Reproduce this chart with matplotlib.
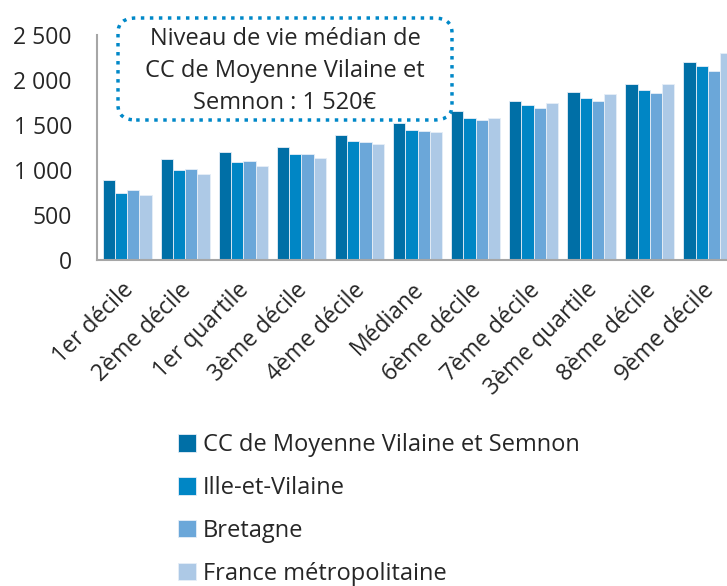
import numpy as np
from matplotlib import pyplot as plt
from matplotlib.patches import FancyBboxPatch
import matplotlib.transforms as mtransforms

plt.rcParams['font.family'] = ['Open Sans', 'DejaVu Sans']

# Categories and series (euros / month)
categories = ['1er décile', '2ème décile', '1er quartile', '3ème décile', '4ème décile',
              'Médiane', '6ème décile', '7ème décile', '3ème quartile', '8ème décile', '9ème décile']
cc_mvs = [885, 1125, 1202, 1258, 1391, 1520, 1650, 1768, 1870, 1953, 2200]
ille_vilaine = [744, 996, 1091, 1177, 1317, 1443, 1573, 1720, 1796, 1890, 2156]
bretagne = [773, 1010, 1099, 1177, 1310, 1432, 1550, 1687, 1768, 1853, 2100]
france = [722, 951, 1043, 1129, 1284, 1424, 1573, 1746, 1842, 1953, 2295]

series_names = ['CC de Moyenne Vilaine et Semnon', 'Ille-et-Vilaine', 'Bretagne', 'France métropolitaine']
colors = ['#006fa6', '#0086c5', '#6ba7d9', '#adc9e6']

fig = plt.figure(figsize=(7.27, 5.86), dpi=100)
ax = fig.add_axes([0.1334, 0.5563, 0.8666, 0.384])

x = np.arange(len(categories))
w = 0.21
handles = []
for k, (vals, name, c) in enumerate(zip([cc_mvs, ille_vilaine, bretagne, france], series_names, colors)):
    b = ax.bar(x + (k - 1.5) * w, vals, width=w, color=c, edgecolor='#e6eef7', linewidth=0.6, label=name)
    handles.append(b)

ax.set_xlim(-0.52, 10.33)
ax.set_ylim(0, 2500)
ax.set_yticks(range(0, 2501, 500))
ax.set_yticklabels([f'{v:,}'.replace(',', ' ') for v in range(0, 2501, 500)])
ax.set_xticks(x)
ax.set_xticklabels(categories, rotation=45, ha='right', rotation_mode='anchor')
ax.tick_params(axis='both', length=0, labelsize=16.5, colors='#262626')
ax.tick_params(axis='y', pad=18)
ax.tick_params(axis='x', pad=13)
shift = mtransforms.ScaledTranslation(-0.06, 0, fig.dpi_scale_trans)
for lbl in ax.get_xticklabels():
    lbl.set_transform(lbl.get_transform() + shift)
for s in ['top', 'right']:
    ax.spines[s].set_visible(False)
for s in ['left', 'bottom']:
    ax.spines[s].set_color('#a6a6a6')
    ax.spines[s].set_linewidth(1.5)

# annotation box
box = FancyBboxPatch((118 / 727, 1 - 120 / 586), 334 / 727, 102 / 586,
                     boxstyle='round,pad=0,rounding_size=0.025', transform=fig.transFigure,
                     facecolor='white', edgecolor='#0088c8', linestyle=(0, (1, 1.6)), linewidth=2.5,
                     zorder=5)
fig.patches.append(box)
fig.text(285 / 727, 1 - 71 / 586, 'Niveau de vie médian de\nCC de Moyenne Vilaine et\nSemnon : 1 520€',
         ha='center', va='center', fontsize=17, color='#262626', linespacing=1.45, zorder=6)

fig.legend(handles=handles, loc='upper left', bbox_to_anchor=(157 / 727, 1 - 412 / 586),
           frameon=False, fontsize=17, handlelength=0.75, handleheight=0.75, handletextpad=0.3,
           labelspacing=0.8, labelcolor='#262626')

fig.savefig('out.png', dpi=100)
